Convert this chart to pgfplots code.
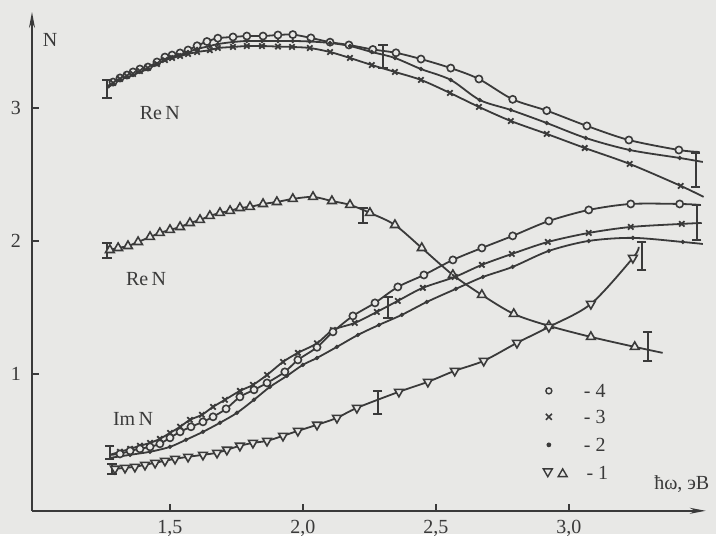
\documentclass[border=0pt]{standalone}
\usepackage{fontspec}
\setmainfont{Liberation Serif}
\usepackage{pgfplots}
\pgfplotsset{compat=1.18}
\usepackage{pgfplotstable}
\usetikzlibrary{arrows.meta}
\definecolor{ink}{HTML}{3A3A3A}
\definecolor{paper}{HTML}{E8E8E6}

% Re N, curves 4 (circles), 3 (crosses), 2 (dots), 1 (up triangles)
\pgfplotstableread{
x y
1.267 3.165
1.286 3.195
1.312 3.226
1.338 3.248
1.361 3.271
1.387 3.293
1.417 3.308
1.451 3.346
1.481 3.383
1.508 3.398
1.538 3.414
1.568 3.436
1.602 3.468
1.639 3.500
1.680 3.525
1.737 3.534
1.789 3.541
1.850 3.541
1.906 3.549
1.962 3.552
2.030 3.527
2.102 3.495
2.173 3.474
2.263 3.440
2.350 3.415
2.444 3.368
2.556 3.300
2.662 3.218
2.789 3.065
2.917 2.980
3.068 2.865
3.226 2.759
3.414 2.684
3.492 2.669
}\reA
\pgfplotstableread{
x y
1.267 3.150
1.286 3.188
1.312 3.218
1.338 3.241
1.361 3.256
1.387 3.278
1.417 3.301
1.451 3.331
1.481 3.361
1.508 3.376
1.538 3.391
1.568 3.406
1.602 3.421
1.650 3.435
1.680 3.451
1.737 3.459
1.789 3.466
1.846 3.466
1.906 3.462
1.959 3.459
2.026 3.451
2.102 3.421
2.177 3.376
2.259 3.323
2.346 3.271
2.444 3.211
2.553 3.113
2.662 3.008
2.782 2.902
2.917 2.805
3.060 2.699
3.229 2.579
3.421 2.414
3.507 2.331
}\reC
\pgfplotstableread{
x y
1.267 3.158
1.286 3.180
1.312 3.211
1.338 3.233
1.361 3.248
1.387 3.271
1.417 3.293
1.451 3.331
1.481 3.361
1.508 3.383
1.538 3.398
1.568 3.421
1.602 3.444
1.650 3.466
1.680 3.481
1.737 3.496
1.789 3.504
1.846 3.504
1.906 3.504
1.962 3.504
2.026 3.500
2.102 3.489
2.177 3.466
2.259 3.421
2.346 3.376
2.444 3.293
2.556 3.211
2.665 3.060
2.782 2.985
2.917 2.887
3.064 2.774
3.229 2.684
3.417 2.624
3.504 2.594
}\reB
\pgfplotstableread{
x y
1.274 1.932
1.305 1.947
1.342 1.962
1.380 1.992
1.425 2.030
1.462 2.060
1.500 2.083
1.538 2.105
1.575 2.135
1.613 2.158
1.650 2.188
1.688 2.211
1.726 2.226
1.763 2.248
1.801 2.256
1.850 2.278
1.902 2.293
1.962 2.316
2.038 2.331
2.109 2.300
2.177 2.271
2.252 2.211
2.346 2.120
2.447 1.947
2.564 1.744
2.673 1.594
2.793 1.451
2.925 1.361
3.083 1.278
3.248 1.203
3.353 1.158
}\reD

% Im N, curves 4, 3, 2, 1 (down triangles)
\pgfplotstableread{
x y
1.274 0.391
1.312 0.398
1.350 0.421
1.387 0.436
1.425 0.451
1.462 0.474
1.500 0.519
1.538 0.564
1.579 0.602
1.624 0.639
1.662 0.677
1.711 0.737
1.763 0.827
1.816 0.880
1.865 0.932
1.932 1.015
1.981 1.105
2.053 1.200
2.113 1.316
2.188 1.436
2.271 1.534
2.357 1.654
2.455 1.744
2.564 1.857
2.673 1.947
2.789 2.038
2.925 2.150
3.075 2.233
3.233 2.278
3.417 2.278
3.492 2.271
}\imA
\pgfplotstableread{
x y
1.274 0.391
1.312 0.414
1.350 0.436
1.387 0.459
1.425 0.481
1.462 0.511
1.500 0.556
1.538 0.602
1.575 0.654
1.620 0.692
1.662 0.752
1.707 0.805
1.763 0.872
1.812 0.917
1.865 0.992
1.925 1.090
1.981 1.158
2.053 1.230
2.113 1.330
2.195 1.383
2.278 1.466
2.357 1.549
2.451 1.647
2.571 1.729
2.673 1.820
2.786 1.902
2.921 1.992
3.075 2.060
3.233 2.105
3.425 2.128
3.500 2.135
}\imC
\pgfplotstableread{
x y
1.274 0.368
1.350 0.391
1.425 0.414
1.500 0.451
1.560 0.504
1.624 0.564
1.688 0.632
1.752 0.707
1.816 0.805
1.876 0.902
1.940 0.985
2.000 1.068
2.053 1.120
2.128 1.203
2.207 1.293
2.286 1.368
2.372 1.444
2.466 1.541
2.575 1.639
2.677 1.729
2.789 1.805
2.925 1.925
3.075 2.000
3.241 2.023
3.429 1.992
3.504 1.977
}\imB
\pgfplotstableread{
x y
1.282 0.286
1.293 0.286
1.331 0.293
1.368 0.301
1.406 0.316
1.444 0.331
1.481 0.346
1.519 0.361
1.568 0.376
1.624 0.391
1.677 0.406
1.714 0.429
1.763 0.459
1.812 0.481
1.865 0.496
1.925 0.534
1.981 0.571
2.053 0.617
2.128 0.669
2.203 0.744
2.361 0.865
2.470 0.940
2.571 1.023
2.680 1.098
2.805 1.233
2.925 1.353
3.083 1.526
3.241 1.872
3.263 1.955
}\imD

\pgfplotsset{
  crv/.style={ink, line width=0.9pt, smooth, tension=0.5, no marks},
  mk/.style={only marks, ink},
  m4/.style={mk, mark=*, mark size=1.8pt, mark options={ink, fill=paper, line width=0.8pt}},
  m3/.style={mk, mark=x, mark size=1.9pt, mark options={ink, line width=0.9pt}},
  m2/.style={mk, mark=*, mark size=0.9pt, mark options={ink, fill=ink}},
  mup/.style={mk, mark=triangle*, mark size=2.5pt, mark options={ink, fill=paper, line width=0.8pt}},
  mdn/.style={mk, mark=triangle*, mark size=2.5pt, mark options={ink, fill=paper, line width=0.8pt, rotate=180}},
  ebar/.style={ink, line width=0.95pt, mark=-, mark size=2.3pt, mark options={ink, line width=0.95pt}},
}

\begin{document}
\begin{tikzpicture}
\fill[paper] (-16pt,-11.5pt) rectangle (342pt,255.5pt);
\begin{axis}[
  scale only axis, width=337pt, height=249.5pt,
  xmin=0.981, xmax=3.515, ymin=-0.03, ymax=3.722,
  axis lines=left,
  axis line style={ink, line width=0.9pt},
  x axis line style={-{Stealth[length=8pt,width=3pt]}},
  y axis line style={-{Stealth[length=8pt,width=3pt]}},
  xtick={1.5,2,2.5,3}, xticklabels={{1,5},{2,0},{2,5},{3,0}},
  ytick={1,2,3}, yticklabels={1,2,3},
  tick align=inside, major tick length=3.5pt,
  tick style={ink, line width=0.9pt},
  ticklabel style={text=ink},
  yticklabel style={xshift=-2pt},
  xticklabel style={yshift=-1pt},
  clip=false,
]
% Re N
\addplot[crv] table {\reA};
\addplot[m4, skip coords between index={0}{1}, skip coords between index={33}{34}] table {\reA};
\addplot[crv] table {\reB};
\addplot[m2, skip coords between index={0}{1}, skip coords between index={33}{34}] table {\reB};
\addplot[crv] table {\reC};
\addplot[m3, skip coords between index={0}{1}, skip coords between index={33}{34}] table {\reC};
\addplot[crv] table {\reD};
\addplot[mup, skip coords between index={30}{31}] table {\reD};
% Im N
\addplot[crv] table {\imB};
\addplot[m2, skip coords between index={0}{1}, skip coords between index={25}{26}] table {\imB};
\addplot[crv] table {\imC};
\addplot[m3, skip coords between index={0}{1}, skip coords between index={30}{31}] table {\imC};
\addplot[crv] table {\imA};
\addplot[m4, skip coords between index={0}{1}, skip coords between index={30}{31}] table {\imA};
\addplot[crv] table {\imD};
\addplot[mdn, skip coords between index={0}{1}, skip coords between index={28}{29}] table {\imD};
% error bars
\addplot[ebar] coordinates {(1.263,3.075) (1.263,3.211)};
\addplot[ebar] coordinates {(2.301,3.301) (2.301,3.474)};
\addplot[ebar] coordinates {(3.477,2.406) (3.477,2.662)};
\addplot[ebar] coordinates {(1.263,1.872) (1.263,1.985)};
\addplot[ebar] coordinates {(2.226,2.135) (2.226,2.248)};
\addplot[ebar] coordinates {(3.297,1.098) (3.297,1.316)};
\addplot[ebar] coordinates {(1.274,0.361) (1.274,0.459)};
\addplot[ebar] coordinates {(2.320,1.421) (2.320,1.579)};
\addplot[ebar] coordinates {(3.481,2.008) (3.481,2.271)};
\addplot[ebar] coordinates {(1.282,0.248) (1.282,0.323)};
\addplot[ebar] coordinates {(2.282,0.699) (2.282,0.872)};
\addplot[ebar] coordinates {(3.274,1.782) (3.274,1.992)};
% labels
\node[text=ink] at (axis cs:1.049,3.511) {N};
\node[text=ink] at (axis cs:1.462,2.962) {Re\,N};
\node[text=ink] at (axis cs:1.410,1.714) {Re\,N};
\node[text=ink] at (axis cs:1.361,0.662) {Im\,N};
\node[text=ink] at (axis cs:3.425,0.173) {ħω, эВ};
% legend
\node at (axis cs:2.925,0.872) {\tikz\draw[ink, line width=0.7pt] (0,0) circle (1.5pt);};
\node[text=ink, anchor=west] at (axis cs:3.030,0.872) {- 4};
\node at (axis cs:2.925,0.677) {\tikz\draw[ink, line width=0.8pt] (-1.5pt,-1.5pt) -- (1.5pt,1.5pt) (-1.5pt,1.5pt) -- (1.5pt,-1.5pt);};
\node[text=ink, anchor=west] at (axis cs:3.030,0.677) {- 3};
\node at (axis cs:2.925,0.466) {\tikz\fill[ink] (0,0) circle (1.2pt);};
\node[text=ink, anchor=west] at (axis cs:3.030,0.466) {- 2};
\node at (axis cs:2.921,0.256) {\tikz\draw[ink, line width=0.7pt] (90:-2.6pt) -- (210:-2.6pt) -- (330:-2.6pt) -- cycle;};
\node at (axis cs:2.977,0.256) {\tikz\draw[ink, line width=0.7pt] (90:2.6pt) -- (210:2.6pt) -- (330:2.6pt) -- cycle;};
\node[text=ink, anchor=west] at (axis cs:3.040,0.256) {- 1};
\end{axis}
\end{tikzpicture}
\end{document}
